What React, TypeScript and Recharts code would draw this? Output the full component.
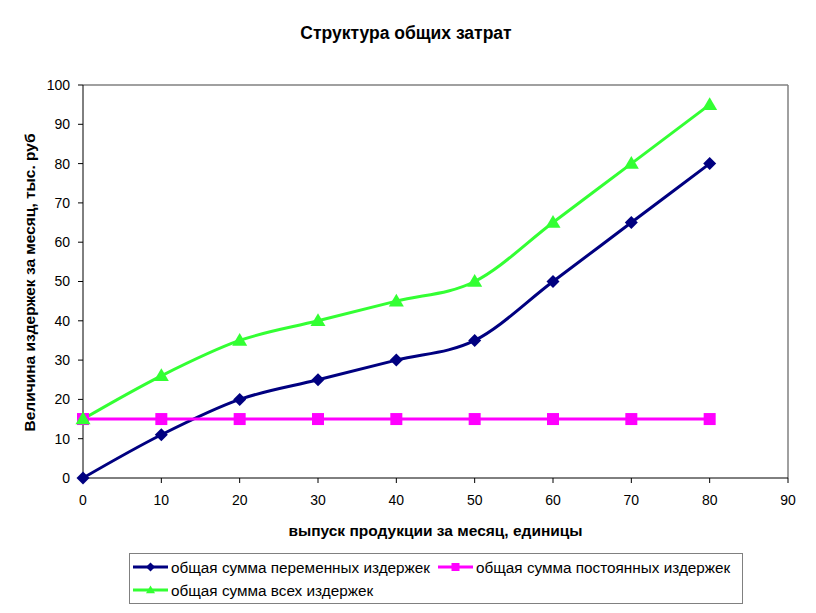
import React from "react";
import {
  LineChart, Line, XAxis, YAxis, ReferenceLine, Legend, Label,
} from "recharts";

const output = [0, 10, 20, 30, 40, 50, 60, 70, 80];
const variableCosts = [0, 11, 20, 25, 30, 35, 50, 65, 80];
const fixedCosts = [15, 15, 15, 15, 15, 15, 15, 15, 15];
const totalCosts = [15, 26, 35, 40, 45, 50, 65, 80, 95];
const xTicks = [0, 10, 20, 30, 40, 50, 60, 70, 80, 90];
const yTicks = [0, 10, 20, 30, 40, 50, 60, 70, 80, 90, 100];

const data = output.map((q, i) => ({
  q,
  variable: variableCosts[i],
  fixed: fixedCosts[i],
  total: totalCosts[i],
}));

const NAVY = "#000080";
const MAGENTA = "#FF00FF";
const LIME = "#33FF33";
const FONT = "'Liberation Sans', Arial, sans-serif";

const Diamond = ({ cx, cy, color = NAVY, r = 6.5 }: any) => (
  <polygon points={`${cx},${cy - r} ${cx + r},${cy} ${cx},${cy + r} ${cx - r},${cy}`} fill={color} />
);
const Square = ({ cx, cy, color = MAGENTA, s = 12 }: any) => (
  <rect x={cx - s / 2} y={cy - s / 2} width={s} height={s} fill={color} />
);
const Triangle = ({ cx, cy, color = LIME, r = 7.5 }: any) => (
  <polygon points={`${cx},${cy - r} ${cx + r},${cy + r * 0.7} ${cx - r},${cy + r * 0.7}`} fill={color} />
);

// legend entries, laid out like the spreadsheet legend (two per row)
const legendItems = [
  { name: "общая сумма переменных издержек", color: NAVY, Mark: Diamond, x: 4, y: 14 },
  { name: "общая сумма постоянных издержек", color: MAGENTA, Mark: Square, x: 309, y: 14 },
  { name: "общая сумма всех издержек", color: LIME, Mark: Triangle, x: 4, y: 37 },
];

const renderLegend = () => (
  <svg width={614} height={51} style={{ display: "block" }}>
    <rect x={0.5} y={0.5} width={613} height={50} fill="#fff" stroke="#808080" />
    {legendItems.map(({ name, color, Mark, x, y }) => (
      <g key={name}>
        <line x1={x} x2={x + 35} y1={y} y2={y} stroke={color} strokeWidth={3} />
        <Mark cx={x + 17.5} cy={y} color={color} r={4.5} s={8} />
        <text x={x + 38} y={y + 5.5} fontSize={15.3} fontFamily={FONT} fill="#000">{name}</text>
      </g>
    ))}
  </svg>
);

export default function App() {
  return (
    <div style={{ position: "absolute", left: 0, top: 0, width: 816, height: 613, background: "#fff", fontFamily: FONT }}>
      <div style={{ position: "absolute", left: -2, top: 23, width: 816, textAlign: "center", fontSize: 17.5, fontWeight: "bold" }}>
        Структура общих затрат
      </div>
      <LineChart
        width={816}
        height={613}
        data={data}
        margin={{ top: 85, right: 28, bottom: 75, left: 43 }}
      >
        <XAxis
          dataKey="q"
          type="number"
          domain={[0, 90]}
          ticks={xTicks}
          interval={0}
          height={60}
          stroke="#000"
          tickSize={5}
          tick={{ fontSize: 14, fill: "#000", fontFamily: FONT }}
          tickMargin={12}
        >
          <Label
            value="выпуск продукции за месяц, единицы"
            position="insideBottom"
            offset={2}
            style={{ fontSize: 15.5, fontWeight: "bold", fill: "#000", fontFamily: FONT }}
          />
        </XAxis>
        <YAxis
          type="number"
          domain={[0, 100]}
          ticks={yTicks}
          interval={0}
          width={40}
          stroke="#000"
          tickSize={5}
          tick={{ fontSize: 14, fill: "#000", fontFamily: FONT }}
          tickMargin={8}
        >
          <Label
            value="Величина издержек за месяц, тыс. руб"
            angle={-90}
            position="center"
            dx={-34}
            dy={1}
            style={{ fontSize: 15.5, fontWeight: "bold", fill: "#000", fontFamily: FONT, textAnchor: "middle" }}
          />
        </YAxis>
        <ReferenceLine y={100} stroke="#808080" strokeWidth={1.5} />
        <ReferenceLine x={90} stroke="#808080" strokeWidth={1.5} />
        <Legend
          layout="horizontal"
          verticalAlign="middle"
          align="center"
          content={renderLegend}
          wrapperStyle={{ left: 129, top: 553, width: 614, height: 51 }}
        />
        <Line
          type="monotone"
          dataKey="variable"
          stroke={NAVY}
          strokeWidth={3}
          dot={(p: any) => <Diamond key={p.index} cx={p.cx} cy={p.cy} />}
          isAnimationActive={false}
        />
        <Line
          type="linear"
          dataKey="fixed"
          stroke={MAGENTA}
          strokeWidth={3}
          dot={(p: any) => <Square key={p.index} cx={p.cx} cy={p.cy} />}
          isAnimationActive={false}
        />
        <Line
          type="monotone"
          dataKey="total"
          stroke={LIME}
          strokeWidth={3}
          dot={(p: any) => <Triangle key={p.index} cx={p.cx} cy={p.cy} />}
          isAnimationActive={false}
        />
      </LineChart>
    </div>
  );
}
